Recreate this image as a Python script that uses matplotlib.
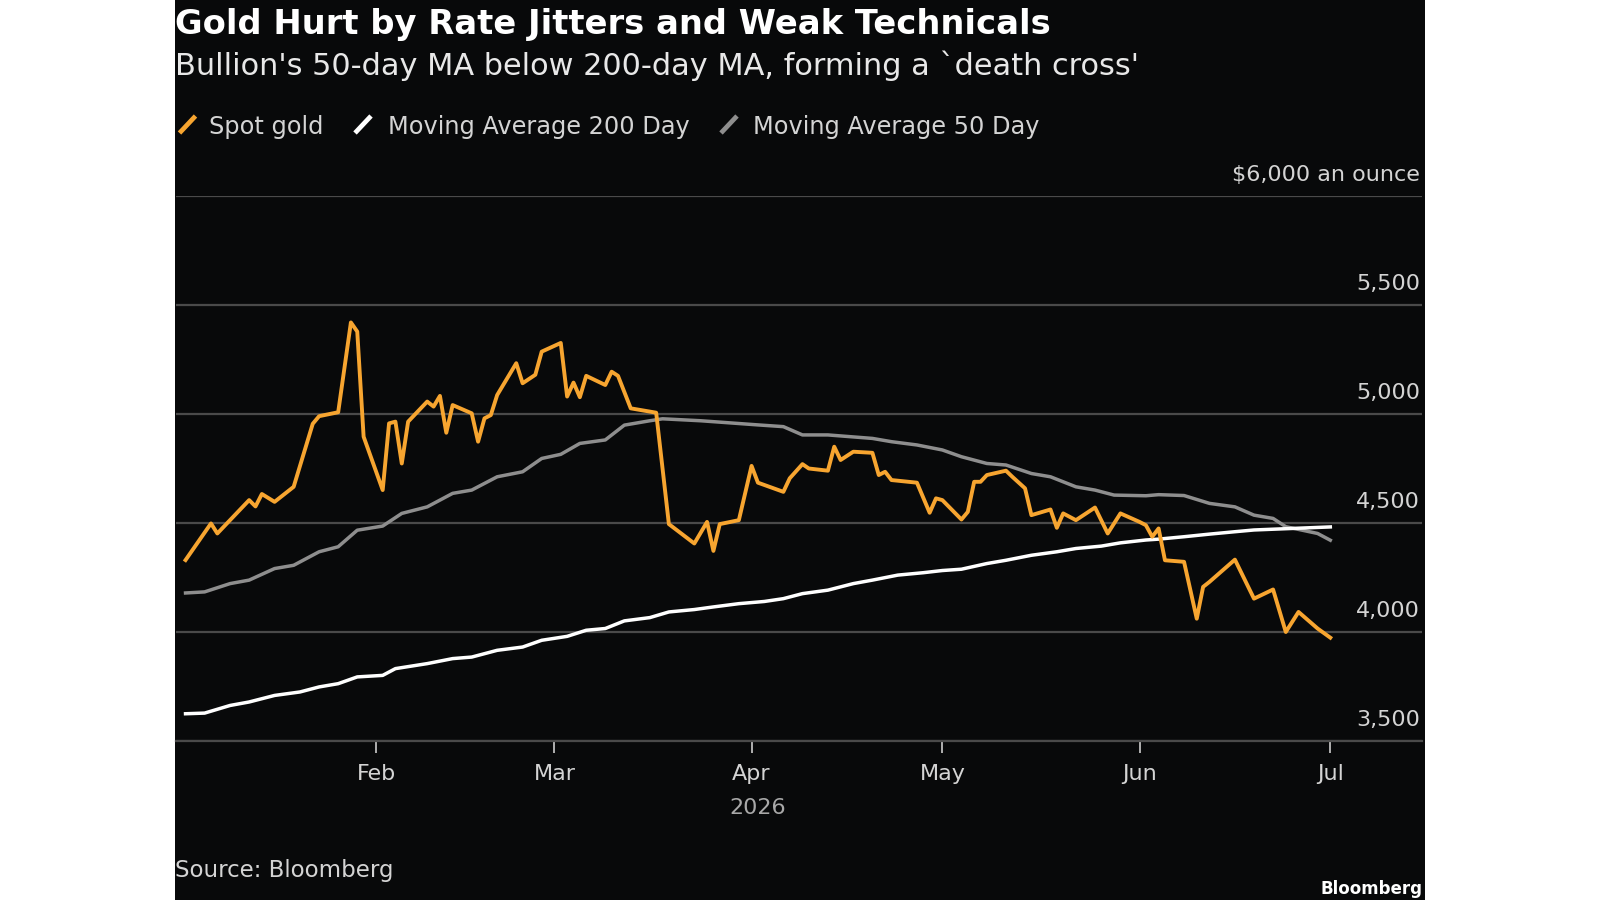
import matplotlib
matplotlib.use("Agg")
import matplotlib.pyplot as plt
import matplotlib.dates as mdates
import pandas as pd
from matplotlib.lines import Line2D
from matplotlib.patches import Rectangle

# values (turning points of each line)
spot_dates = ['2026-01-02', '2026-01-06', '2026-01-07', '2026-01-12', '2026-01-13', '2026-01-14',
              '2026-01-16', '2026-01-19', '2026-01-22', '2026-01-23', '2026-01-26', '2026-01-28',
              '2026-01-29', '2026-01-30', '2026-02-02', '2026-02-03', '2026-02-04', '2026-02-05',
              '2026-02-06', '2026-02-09', '2026-02-10', '2026-02-11', '2026-02-12', '2026-02-13',
              '2026-02-16', '2026-02-17', '2026-02-18', '2026-02-19', '2026-02-20', '2026-02-23',
              '2026-02-24', '2026-02-26', '2026-02-27', '2026-03-02', '2026-03-03', '2026-03-04',
              '2026-03-05', '2026-03-06', '2026-03-09', '2026-03-10', '2026-03-11', '2026-03-13',
              '2026-03-17', '2026-03-19', '2026-03-23', '2026-03-25', '2026-03-26', '2026-03-27',
              '2026-03-30', '2026-04-01', '2026-04-02', '2026-04-06', '2026-04-07', '2026-04-09',
              '2026-04-10', '2026-04-13', '2026-04-14', '2026-04-15', '2026-04-17', '2026-04-20',
              '2026-04-21', '2026-04-22', '2026-04-23', '2026-04-27', '2026-04-29', '2026-04-30',
              '2026-05-01', '2026-05-04', '2026-05-05', '2026-05-06', '2026-05-07', '2026-05-08',
              '2026-05-11', '2026-05-12', '2026-05-14', '2026-05-15', '2026-05-18', '2026-05-19',
              '2026-05-20', '2026-05-22', '2026-05-25', '2026-05-27', '2026-05-29', '2026-06-01',
              '2026-06-02', '2026-06-03', '2026-06-04', '2026-06-05', '2026-06-08', '2026-06-10',
              '2026-06-11', '2026-06-12', '2026-06-16', '2026-06-19', '2026-06-22', '2026-06-24',
              '2026-06-26', '2026-06-29', '2026-07-01']
spot_gold = [4330, 4498, 4452, 4605, 4576, 4633,
             4597, 4666, 4955, 4990, 5008, 5420,
             5378, 4896, 4651, 4957, 4965, 4773,
             4965, 5057, 5034, 5083, 4914, 5041,
             5003, 4873, 4980, 4995, 5087, 5233,
             5141, 5180, 5286, 5326, 5080, 5144,
             5077, 5175, 5133, 5194, 5175, 5026,
             5006, 4495, 4406, 4505, 4372, 4495,
             4513, 4762, 4685, 4643, 4705, 4770,
             4750, 4740, 4850, 4789, 4827, 4822,
             4720, 4735, 4697, 4685, 4547, 4613,
             4605, 4516, 4551, 4689, 4689, 4720,
             4740, 4712, 4659, 4536, 4562, 4478,
             4544, 4513, 4571, 4452, 4544, 4505,
             4490, 4437, 4475, 4329, 4322, 4061,
             4207, 4230, 4332, 4153, 4195, 4000,
             4092, 4016, 3974]

ma50_dates = ['2026-01-02', '2026-01-05', '2026-01-09', '2026-01-12', '2026-01-16', '2026-01-19',
              '2026-01-23', '2026-01-26', '2026-01-29', '2026-02-02', '2026-02-05', '2026-02-09',
              '2026-02-13', '2026-02-16', '2026-02-20', '2026-02-24', '2026-02-27', '2026-03-02',
              '2026-03-05', '2026-03-09', '2026-03-12', '2026-03-16', '2026-03-18', '2026-03-24',
              '2026-04-02', '2026-04-06', '2026-04-09', '2026-04-13', '2026-04-20', '2026-04-23',
              '2026-04-27', '2026-05-01', '2026-05-04', '2026-05-08', '2026-05-11', '2026-05-15',
              '2026-05-18', '2026-05-22', '2026-05-25', '2026-05-28', '2026-06-02', '2026-06-04',
              '2026-06-08', '2026-06-12', '2026-06-16', '2026-06-19', '2026-06-22', '2026-06-24',
              '2026-06-29', '2026-07-01']
ma50 = [4179, 4184, 4222, 4238, 4291, 4306,
        4368, 4391, 4467, 4486, 4544, 4574,
        4636, 4651, 4712, 4735, 4796, 4815,
        4865, 4881, 4949, 4969, 4978, 4969,
        4950, 4942, 4904, 4904, 4888, 4873,
        4858, 4835, 4804, 4773, 4766, 4727,
        4712, 4666, 4651, 4628, 4625, 4630,
        4626, 4590, 4574, 4536, 4521, 4483,
        4452, 4421]

ma200_dates = ['2026-01-02', '2026-01-05', '2026-01-09', '2026-01-12', '2026-01-16', '2026-01-20',
               '2026-01-23', '2026-01-26', '2026-01-29', '2026-02-02', '2026-02-04', '2026-02-09',
               '2026-02-13', '2026-02-16', '2026-02-20', '2026-02-24', '2026-02-27', '2026-03-03',
               '2026-03-06', '2026-03-09', '2026-03-12', '2026-03-16', '2026-03-19', '2026-03-23',
               '2026-03-26', '2026-03-30', '2026-04-03', '2026-04-06', '2026-04-09', '2026-04-13',
               '2026-04-17', '2026-04-20', '2026-04-24', '2026-04-28', '2026-05-01', '2026-05-04',
               '2026-05-08', '2026-05-11', '2026-05-15', '2026-05-19', '2026-05-22', '2026-05-26',
               '2026-05-29', '2026-06-02', '2026-06-04', '2026-06-08', '2026-06-12', '2026-06-16',
               '2026-06-19', '2026-06-25', '2026-07-01']
ma200 = [3625, 3628, 3663, 3679, 3709, 3725,
         3748, 3763, 3794, 3801, 3832, 3855,
         3878, 3885, 3916, 3931, 3962, 3980,
         4008, 4016, 4051, 4066, 4092, 4103,
         4115, 4130, 4140, 4153, 4176, 4192,
         4222, 4238, 4261, 4272, 4282, 4288,
         4314, 4329, 4352, 4368, 4383, 4394,
         4409, 4422, 4426, 4437, 4449, 4460,
         4468, 4475, 4482]

y_ticks = [3500, 4000, 4500, 5000, 5500, 6000]
y_labels = ['3,500', '4,000', '4,500', '5,000', '5,500', '$6,000 an ounce']

BG = '#08090a'
ORANGE = '#f7a530'
GREY = '#8e8e8e'
GRID = '#4a4a4a'
LABEL = '#d4d4d4'

W, H = 1600, 900


def fx(px):
    return px / W


def fy(py):
    return 1 - py / H


fig = plt.figure(figsize=(16, 9), dpi=100, facecolor='white')
fig.patches.append(Rectangle((fx(175), 0), 1250 / W, 1, transform=fig.transFigure,
                             facecolor=BG, edgecolor='none', zorder=-10))

ax = fig.add_axes([fx(176), fy(741), (1422 - 176) / W, (741 - 196) / H])
ax.set_facecolor('none')

ax.plot(pd.to_datetime(ma50_dates), ma50, color=GREY, lw=2.5, zorder=3)
ax.plot(pd.to_datetime(ma200_dates), ma200, color='white', lw=2.5, zorder=4)
ax.plot(pd.to_datetime(spot_dates), spot_gold, color=ORANGE, lw=2.8, zorder=5)

ax.set_ylim(3500, 6000)
ax.set_xlim(pd.Timestamp('2025-12-31 12:00'), pd.Timestamp('2026-07-15 10:00'))

ax.set_yticks(y_ticks)
ax.yaxis.grid(True, color=GRID, lw=1.6)
ax.tick_params(axis='y', length=0, labelleft=False)
for s in ['top', 'left', 'right']:
    ax.spines[s].set_visible(False)
ax.spines['bottom'].set_color(GRID)
ax.spines['bottom'].set_linewidth(1.6)

ax.xaxis.set_major_locator(mdates.MonthLocator(bymonth=[2, 3, 4, 5, 6, 7]))
ax.xaxis.set_major_formatter(mdates.DateFormatter('%b'))
ax.tick_params(axis='x', length=8.6, width=1.4, color='#b0b0b0',
               labelcolor=LABEL, labelsize=16, pad=8)

for v, lab in zip(y_ticks, y_labels):
    ax.annotate(lab, xy=(1, v), xycoords=('axes fraction', 'data'),
                xytext=(-1.5, 10.8), textcoords='offset points',
                ha='right', va='baseline', fontsize=16, color=LABEL)

ax.annotate('2026', xy=(pd.Timestamp('2026-04-02'), 0), xycoords=('data', 'axes fraction'),
            xytext=(0, -52.9), textcoords='offset points',
            ha='center', va='baseline', fontsize=16, color='#a8a8a8')

# header
fig.text(fx(175), fy(34), 'Gold Hurt by Rate Jitters and Weak Technicals',
         fontsize=24.3, fontweight='bold', color='white', va='baseline')
fig.text(fx(175), fy(75), "Bullion's 50-day MA below 200-day MA, forming a `death cross'",
         fontsize=21.9, color='#e8e8e8', va='baseline')

# legend
legend_items = [('Spot gold', ORANGE, 178.5, 209),
                ('Moving Average 200 Day', 'white', 354, 388),
                ('Moving Average 50 Day', GREY, 720, 753)]
for text, col, x0, tx in legend_items:
    fig.add_artist(Line2D([fx(x0 + 1), fx(x0 + 17)], [fy(133), fy(116)],
                          transform=fig.transFigure, color=col, lw=3.4,
                          solid_capstyle='butt'))
    fig.text(fx(tx), fy(134), text, fontsize=17.3, color=LABEL, va='baseline')

fig.text(fx(175), fy(877.5), 'Source: Bloomberg', fontsize=16.5, color=LABEL, va='baseline')
fig.text(fx(1422), fy(898), 'Bloomberg', fontsize=12, fontweight='bold',
         color='white', ha='right', va='bottom')

fig.savefig('out.png', dpi=100, facecolor='white')
